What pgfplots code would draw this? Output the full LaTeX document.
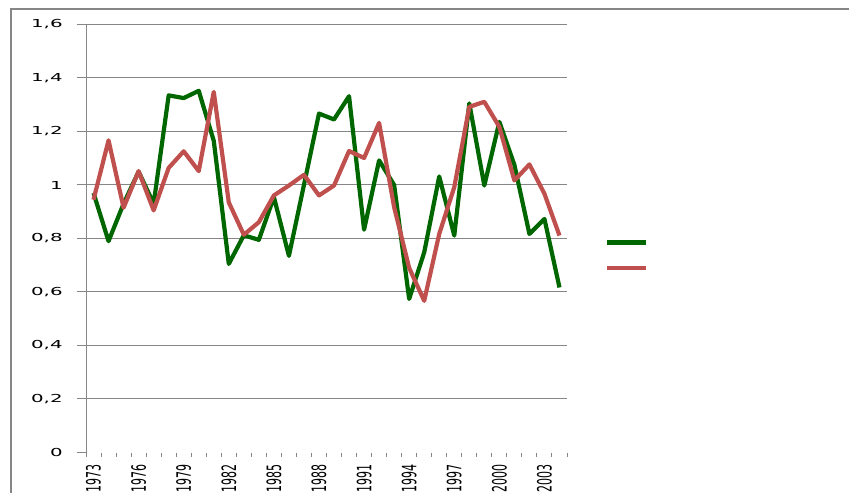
\documentclass[border=0pt]{standalone}
\usepackage{pgfplots}
\usepackage{pgfplotstable}
\pgfplotsset{compat=1.18}
\usepackage{fontspec}
\setmainfont{DejaVu Sans}
\definecolor{grn}{HTML}{006600}
\definecolor{rd}{HTML}{C0504D}
\definecolor{gridc}{HTML}{868686}
\pgfplotstableread{
i year green red
0 1973 0.97 0.945
1 1974 0.79 1.167
2 1975 0.93 0.915
3 1976 1.05 1.052
4 1977 0.93 0.905
5 1978 1.335 1.064
6 1979 1.325 1.126
7 1980 1.352 1.052
8 1981 1.165 1.348
9 1982 0.705 0.935
10 1983 0.812 0.814
11 1984 0.795 0.861
12 1985 0.955 0.961
13 1986 0.735 0.998
14 1987 1.0 1.038
15 1988 1.267 0.961
16 1989 1.245 0.998
17 1990 1.332 1.127
18 1991 0.833 1.101
19 1992 1.092 1.232
20 1993 1.0 0.917
21 1994 0.574 0.69
22 1995 0.748 0.567
23 1996 1.032 0.817
24 1997 0.811 0.992
25 1998 1.305 1.292
26 1999 0.998 1.311
27 2000 1.236 1.217
28 2001 1.075 1.017
29 2002 0.817 1.077
30 2003 0.873 0.967
31 2004 0.617 0.811
}\datatable
\begin{document}
\begin{tikzpicture}
\path[use as bounding box] (0,0) rectangle (849bp,493bp);
\draw[gridc, line width=1.5bp] (11bp,0) -- (11bp,484bp) -- (849bp,484bp);
\begin{axis}[
  at={(86bp,40.5bp)}, anchor=south west,
  scale only axis, width=481bp, height=428bp,
  xmin=-0.5, xmax=31.5, ymin=0, ymax=1.6,
  axis lines*=left,
  x axis line style={draw=none},
  y axis line style={draw=gridc, line width=1bp, -},
  tick align=outside,
  major tick length=9bp, minor tick length=4bp,
  xtick={0,3,...,30},
  xticklabels={1973,1976,1979,1982,1985,1988,1991,1994,1997,2000,2003},
  major x tick style={draw=none},
  minor xtick={-0.5,0.5,...,31.5},
  minor x tick style={draw=gridc, line width=1bp},
  ytick={0.2,0.4,0.6,0.8,1,1.2,1.4,1.6},
  yticklabels={{0,2},{0,4},{0,6},{0,8},1,{1,2},{1,4},{1,6}},
  extra y ticks={0}, extra y tick labels={0},
  extra y tick style={grid=none, tick style={draw=none}},
  ytick style={draw=gridc, line width=1bp},
  ymajorgrids, grid style={draw=gridc, line width=1bp},
  tick label style={font=\fontsize{11bp}{13bp}\selectfont, text=black, inner sep=0pt},
  yticklabel style={anchor=east, xshift=-14bp, xscale=1.8},
  xticklabel style={yshift=-3bp, rotate=90, yscale=1.8, anchor=east},
  legend style={draw=none, fill=none, at={(1.079,0.496)}, anchor=north west,
    inner sep=0pt, row sep=21bp, nodes={inner sep=0pt}},
  legend image code/.code={\draw[#1] (0bp,0bp) -- (39bp,0bp);},
  clip=false,
]
\addplot[grn, line width=4.2bp, line join=round] table[x=i, y=green] {\datatable};
\addlegendentry{}
\addplot[rd, line width=4.2bp, line join=round] table[x=i, y=red] {\datatable};
\addlegendentry{}
\end{axis}
\end{tikzpicture}
\end{document}
